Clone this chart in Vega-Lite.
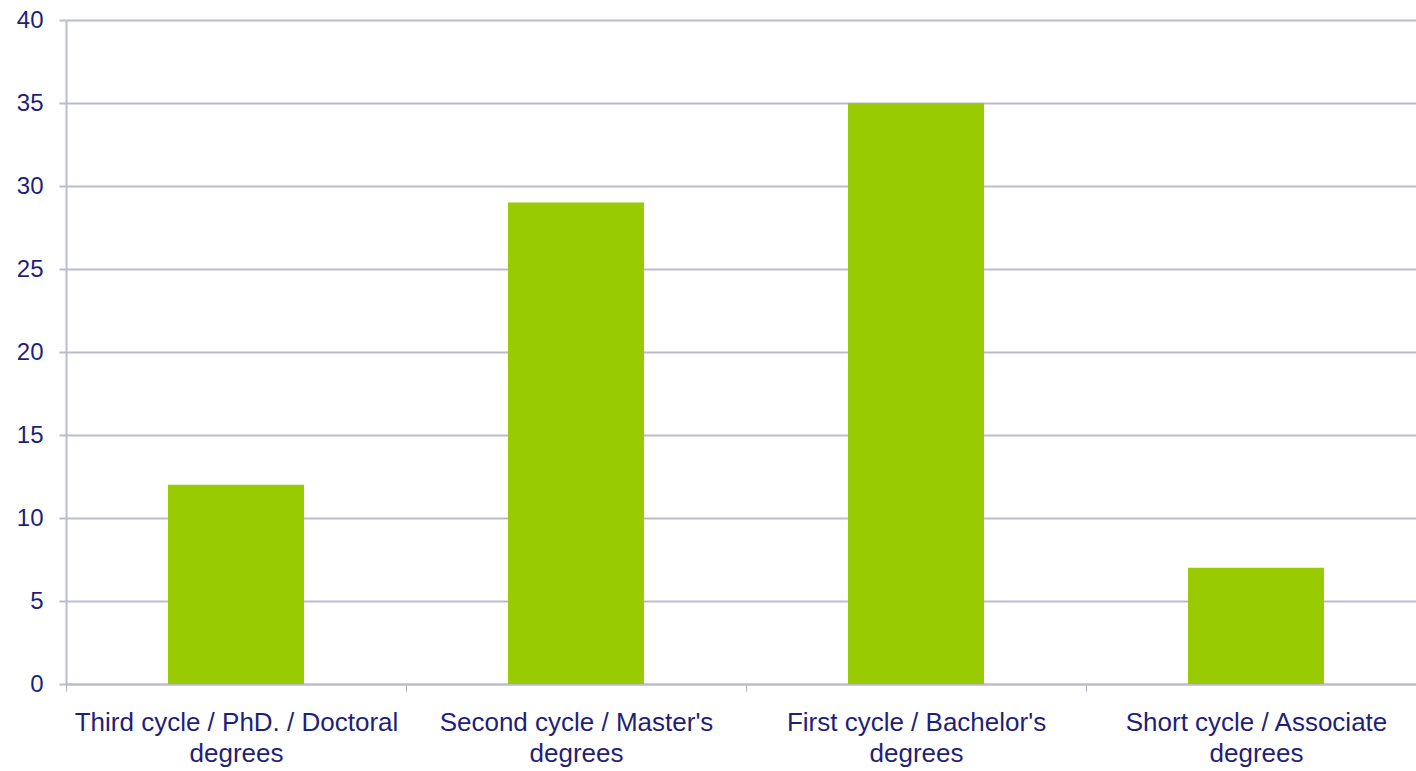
{
  "$schema": "https://vega.github.io/schema/vega-lite/v6.json",
  "width": 1360,
  "height": 664,
  "autosize": "none",
  "padding": {"left": 66, "top": 20, "right": 0, "bottom": 87},
  "background": "white",
  "config": {"view": {"stroke": null}, "font": "Liberation Sans"},
  "data": {
    "values": [
      {"category": "Third cycle / PhD. / Doctoral degrees", "value": 12},
      {"category": "Second cycle / Master's degrees", "value": 29},
      {"category": "First cycle / Bachelor's degrees", "value": 35},
      {"category": "Short cycle / Associate degrees", "value": 7}
    ]
  },
  "mark": {"type": "bar", "color": "#99CC00", "width": {"band": 0.4}},
  "encoding": {
    "x": {
      "field": "category",
      "type": "nominal",
      "sort": null,
      "scale": {"paddingInner": 0, "paddingOuter": 0},
      "axis": {
        "title": null,
        "labelAngle": 0,
        "labelExpr": "datum.label ? [replace(datum.label, ' degrees', ''), 'degrees'] : ''",
        "labelFont": "Liberation Sans",
        "labelFontSize": 26,
        "labelColor": "#1F1F7A",
        "labelLineHeight": 31,
        "labelPadding": 18,
        "labelBaseline": "top",
        "labelLimit": 400,
        "tickBand": "extent",
        "tickSize": 7,
        "tickColor": "#A8A8C0",
        "domainColor": "#BBBBD0",
        "domainWidth": 2,
        "grid": false
      }
    },
    "y": {
      "field": "value",
      "type": "quantitative",
      "scale": {"domain": [0, 40], "nice": false},
      "axis": {
        "title": null,
        "values": [0, 5, 10, 15, 20, 25, 30, 35, 40],
        "labelFont": "Liberation Sans",
        "labelFontSize": 24,
        "labelColor": "#1F1F7A",
        "labelPadding": 16,
        "tickSize": 7,
        "tickColor": "#BBBBD0",
        "tickWidth": 2,
        "domainColor": "#BBBBD0",
        "domainWidth": 2,
        "gridColor": "#BBBBD0",
        "gridWidth": 2
      }
    }
  }
}
